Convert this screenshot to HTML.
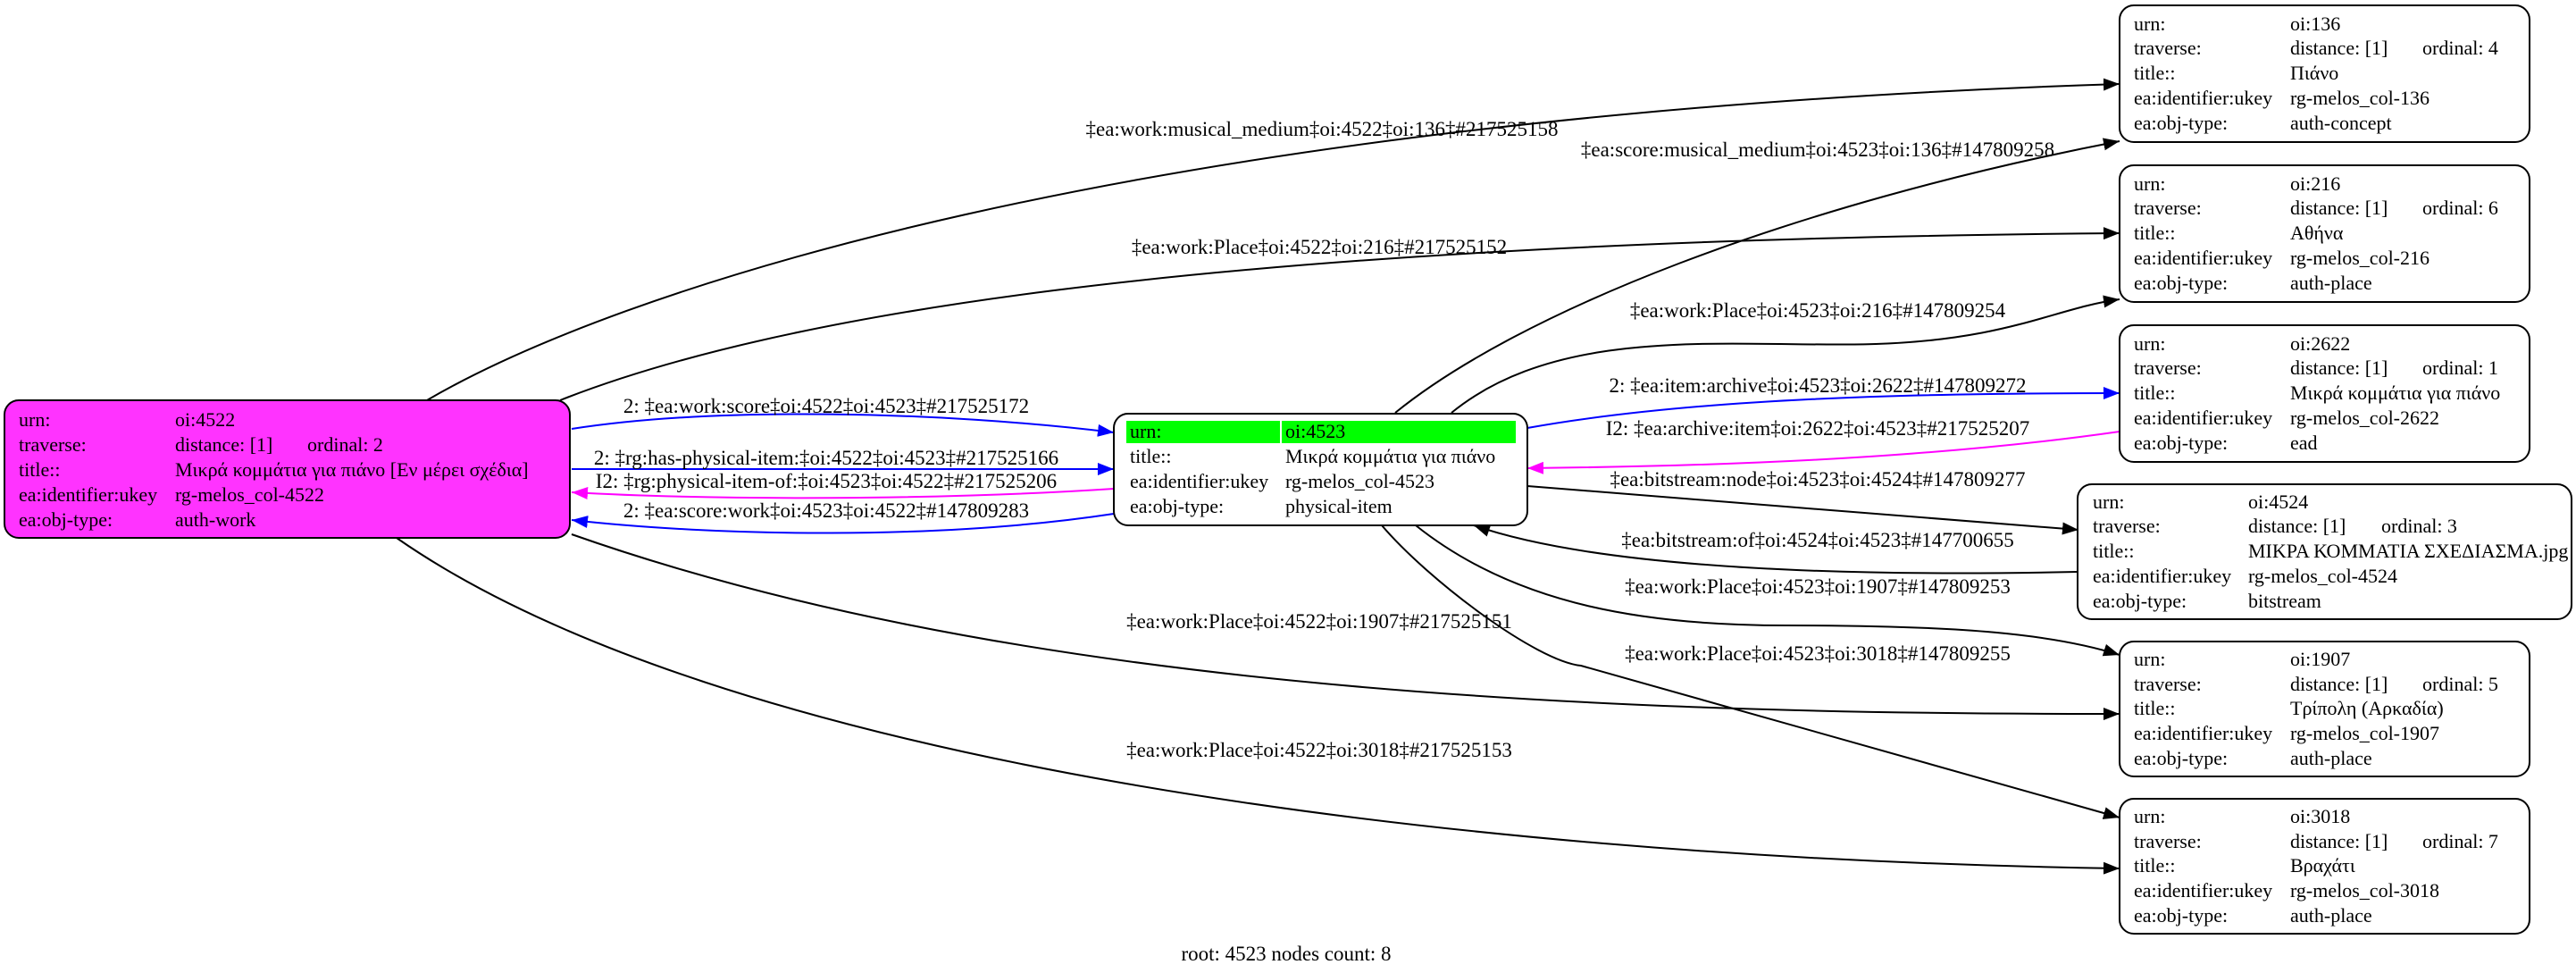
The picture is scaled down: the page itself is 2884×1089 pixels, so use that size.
<!DOCTYPE html>
<html><head><meta charset="utf-8"><style>
html,body{margin:0;padding:0;background:#fff;}
svg{display:block;}
text{font-family:"Liberation Serif","DejaVu Serif",serif;font-size:22px;fill:#000;}
.m{text-anchor:middle;font-size:23px;}
</style></head><body>
<svg width="2884" height="1089" viewBox="0 0 2884 1089" xmlns="http://www.w3.org/2000/svg">
<defs>
<marker id="ab" markerUnits="userSpaceOnUse" markerWidth="20" markerHeight="14" refX="18" refY="7" orient="auto"><path d="M0,0 L18,7 L0,14 Z" fill="#000"/></marker>
<marker id="abl" markerUnits="userSpaceOnUse" markerWidth="20" markerHeight="14" refX="18" refY="7" orient="auto"><path d="M0,0 L18,7 L0,14 Z" fill="#0000ff"/></marker>
<marker id="amg" markerUnits="userSpaceOnUse" markerWidth="20" markerHeight="14" refX="18" refY="7" orient="auto"><path d="M0,0 L18,7 L0,14 Z" fill="#ff00ff"/></marker>
</defs>
<g fill="none" stroke-width="2">
<path d="M478 448 C680 330,1250 130,2373 94" stroke="#000" marker-end="url(#ab)"/>
<path d="M627 448 C850 360,1300 270,2373 261" stroke="#000" marker-end="url(#ab)"/>
<path d="M1562 462 C1700 350,2000 230,2373 158" stroke="#000" marker-end="url(#ab)"/>
<path d="M1625 462 C1750 360,1950 390,2100 385 C2250 380,2300 345,2373 335" stroke="#000" marker-end="url(#ab)"/>
<path d="M640 480 C800 455,1050 460,1247 484" stroke="#0000ff" marker-end="url(#abl)"/>
<path d="M640 525 L1247 525" stroke="#0000ff" marker-end="url(#abl)"/>
<path d="M1247 547 C1050 560,800 560,640 551" stroke="#ff00ff" marker-end="url(#amg)"/>
<path d="M1247 575 C1050 605,800 600,640 582" stroke="#0000ff" marker-end="url(#abl)"/>
<path d="M1710 479 C1900 445,2150 440,2373 440" stroke="#0000ff" marker-end="url(#abl)"/>
<path d="M2373 483 C2150 515,1900 522,1710 524" stroke="#ff00ff" marker-end="url(#amg)"/>
<path d="M1710 544 C1900 560,2150 578,2327 593" stroke="#000" marker-end="url(#ab)"/>
<path d="M2326 640 C2100 645,1800 640,1650 588" stroke="#000" marker-end="url(#ab)"/>
<path d="M1585 588 C1700 680,1850 700,2000 700 C2200 700,2300 710,2373 733" stroke="#000" marker-end="url(#ab)"/>
<path d="M1547 588 C1600 650,1720 740,1770 745 L2373 915" stroke="#000" marker-end="url(#ab)"/>
<path d="M640 598 C1100 760,1700 800,2373 799" stroke="#000" marker-end="url(#ab)"/>
<path d="M444 602 C800 850,1600 960,2373 972" stroke="#000" marker-end="url(#ab)"/>
</g>
<g>
<text class="m" x="1480" y="152">‡ea:work:musical_medium‡oi:4522‡oi:136‡#217525158</text>
<text class="m" x="1477" y="284">‡ea:work:Place‡oi:4522‡oi:216‡#217525152</text>
<text class="m" x="2035" y="175">‡ea:score:musical_medium‡oi:4523‡oi:136‡#147809258</text>
<text class="m" x="2035" y="355">‡ea:work:Place‡oi:4523‡oi:216‡#147809254</text>
<text class="m" x="925" y="462">2: ‡ea:work:score‡oi:4522‡oi:4523‡#217525172</text>
<text class="m" x="925" y="520">2: ‡rg:has-physical-item:‡oi:4522‡oi:4523‡#217525166</text>
<text class="m" x="925" y="546">I2: ‡rg:physical-item-of:‡oi:4523‡oi:4522‡#217525206</text>
<text class="m" x="925" y="579">2: ‡ea:score:work‡oi:4523‡oi:4522‡#147809283</text>
<text class="m" x="2035" y="439">2: ‡ea:item:archive‡oi:4523‡oi:2622‡#147809272</text>
<text class="m" x="2035" y="487">I2: ‡ea:archive:item‡oi:2622‡oi:4523‡#217525207</text>
<text class="m" x="2035" y="544">‡ea:bitstream:node‡oi:4523‡oi:4524‡#147809277</text>
<text class="m" x="2035" y="612">‡ea:bitstream:of‡oi:4524‡oi:4523‡#147700655</text>
<text class="m" x="2035" y="664">‡ea:work:Place‡oi:4523‡oi:1907‡#147809253</text>
<text class="m" x="2035" y="739">‡ea:work:Place‡oi:4523‡oi:3018‡#147809255</text>
<text class="m" x="1477" y="703">‡ea:work:Place‡oi:4522‡oi:1907‡#217525151</text>
<text class="m" x="1477" y="847">‡ea:work:Place‡oi:4522‡oi:3018‡#217525153</text>
<text class="m" x="1440" y="1075">root: 4523 nodes count: 8</text>
</g>

<rect x="5" y="448" width="633" height="154" rx="16" fill="#ff33ff" stroke="#000" stroke-width="2"/>
<text x="21" y="477">urn:</text><text x="196" y="477">oi:4522</text>
<text x="21" y="505">traverse:</text><text x="196" y="505">distance: [1]</text><text x="344" y="505">ordinal: 2</text>
<text x="21" y="533">title::</text><text x="196" y="533">Μικρά κομμάτια για πιάνο [Εν μέρει σχέδια]</text>
<text x="21" y="561">ea:identifier:ukey</text><text x="196" y="561">rg-melos_col-4522</text>
<text x="21" y="589">ea:obj-type:</text><text x="196" y="589">auth-work</text>

<rect x="1247" y="463" width="463" height="125" rx="16" fill="#fff" stroke="#000" stroke-width="2"/>
<rect x="1261" y="471" width="172" height="25" fill="#00ff00"/>
<rect x="1435" y="471" width="262" height="25" fill="#00ff00"/>
<text x="1265" y="490">urn:</text><text x="1439" y="490">oi:4523</text>
<text x="1265" y="518">title::</text><text x="1439" y="518">Μικρά κομμάτια για πιάνο</text>
<text x="1265" y="546">ea:identifier:ukey</text><text x="1439" y="546">rg-melos_col-4523</text>
<text x="1265" y="574">ea:obj-type:</text><text x="1439" y="574">physical-item</text>

<g>
<rect x="2373" y="6" width="459" height="153" rx="16" fill="#fff" stroke="#000" stroke-width="2"/>
<text x="2389" y="34">urn:</text><text x="2564" y="34">oi:136</text>
<text x="2389" y="61">traverse:</text><text x="2564" y="61">distance: [1]</text><text x="2712" y="61">ordinal: 4</text>
<text x="2389" y="89">title::</text><text x="2564" y="89">Πιάνο</text>
<text x="2389" y="117">ea:identifier:ukey</text><text x="2564" y="117">rg-melos_col-136</text>
<text x="2389" y="145">ea:obj-type:</text><text x="2564" y="145">auth-concept</text>
</g>
<g>
<rect x="2373" y="185" width="459" height="153" rx="16" fill="#fff" stroke="#000" stroke-width="2"/>
<text x="2389" y="213">urn:</text><text x="2564" y="213">oi:216</text>
<text x="2389" y="240">traverse:</text><text x="2564" y="240">distance: [1]</text><text x="2712" y="240">ordinal: 6</text>
<text x="2389" y="268">title::</text><text x="2564" y="268">Αθήνα</text>
<text x="2389" y="296">ea:identifier:ukey</text><text x="2564" y="296">rg-melos_col-216</text>
<text x="2389" y="324">ea:obj-type:</text><text x="2564" y="324">auth-place</text>
</g>
<g>
<rect x="2373" y="364" width="459" height="153" rx="16" fill="#fff" stroke="#000" stroke-width="2"/>
<text x="2389" y="392">urn:</text><text x="2564" y="392">oi:2622</text>
<text x="2389" y="419">traverse:</text><text x="2564" y="419">distance: [1]</text><text x="2712" y="419">ordinal: 1</text>
<text x="2389" y="447">title::</text><text x="2564" y="447">Μικρά κομμάτια για πιάνο</text>
<text x="2389" y="475">ea:identifier:ukey</text><text x="2564" y="475">rg-melos_col-2622</text>
<text x="2389" y="503">ea:obj-type:</text><text x="2564" y="503">ead</text>
</g>
<g>
<rect x="2326" y="542" width="553" height="151" rx="16" fill="#fff" stroke="#000" stroke-width="2"/>
<text x="2343" y="569">urn:</text><text x="2517" y="569">oi:4524</text>
<text x="2343" y="596">traverse:</text><text x="2517" y="596">distance: [1]</text><text x="2666" y="596">ordinal: 3</text>
<text x="2343" y="624">title::</text><text x="2517" y="624">ΜΙΚΡΑ ΚΟΜΜΑΤΙΑ ΣΧΕΔΙΑΣΜΑ.jpg</text>
<text x="2343" y="652">ea:identifier:ukey</text><text x="2517" y="652">rg-melos_col-4524</text>
<text x="2343" y="680">ea:obj-type:</text><text x="2517" y="680">bitstream</text>
</g>
<g>
<rect x="2373" y="718" width="459" height="151" rx="16" fill="#fff" stroke="#000" stroke-width="2"/>
<text x="2389" y="745">urn:</text><text x="2564" y="745">oi:1907</text>
<text x="2389" y="773">traverse:</text><text x="2564" y="773">distance: [1]</text><text x="2712" y="773">ordinal: 5</text>
<text x="2389" y="800">title::</text><text x="2564" y="800">Τρίπολη (Αρκαδία)</text>
<text x="2389" y="828">ea:identifier:ukey</text><text x="2564" y="828">rg-melos_col-1907</text>
<text x="2389" y="856">ea:obj-type:</text><text x="2564" y="856">auth-place</text>
</g>
<g>
<rect x="2373" y="894" width="459" height="151" rx="16" fill="#fff" stroke="#000" stroke-width="2"/>
<text x="2389" y="921">urn:</text><text x="2564" y="921">oi:3018</text>
<text x="2389" y="949">traverse:</text><text x="2564" y="949">distance: [1]</text><text x="2712" y="949">ordinal: 7</text>
<text x="2389" y="976">title::</text><text x="2564" y="976">Βραχάτι</text>
<text x="2389" y="1004">ea:identifier:ukey</text><text x="2564" y="1004">rg-melos_col-3018</text>
<text x="2389" y="1032">ea:obj-type:</text><text x="2564" y="1032">auth-place</text>
</g>
</svg>
</body></html>
